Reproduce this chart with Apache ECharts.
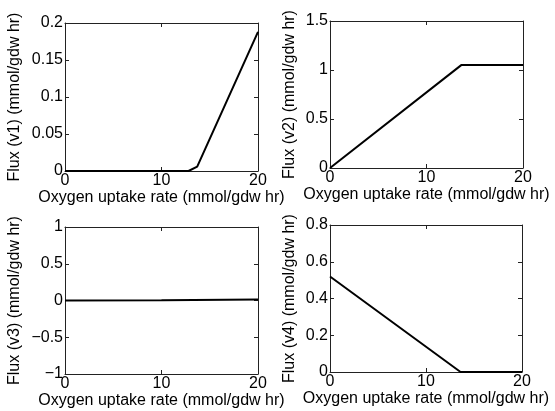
<!DOCTYPE html>
<html>
<head>
<meta charset="utf-8" />
<title>Flux vs oxygen uptake</title>
<style type="text/css">
  html, body, #main {width:100%;height:100%;margin:0;overflow:hidden;background:#fff;}
</style>
<script src="https://cdn.jsdelivr.net/npm/echarts@6/dist/echarts.min.js"></script>
</head>
<body>
<div id="main"></div>
<script type="text/javascript">
// data: [oxygen uptake, flux]
var fluxV1 = [[0, 0], [12.8, 0], [13.7, 0.006], [20, 0.188]];
var fluxV2 = [[0, 0], [13.6, 1.05], [20, 1.05]];
var fluxV3 = [[0, 0], [10, 0.005], [20, 0.012]];
var fluxV4 = [[0, 0.52], [13.6, 0], [20, 0]];
var yNames = ['Flux (v1) (mmol/gdw hr)', 'Flux (v2) (mmol/gdw hr)', 'Flux (v3) (mmol/gdw hr)', 'Flux (v4) (mmol/gdw hr)'];
var yMin = [0, 0, -1, 0];
var yMax = [0.2, 1.5, 1, 0.8];
var yStep = [0.05, 0.5, 0.5, 0.2];
var xName = 'Oxygen uptake rate (mmol/gdw hr)';

var font = 'Liberation Sans, Arial, sans-serif';
var grids = [
    {left: 65, top: 23, width: 193, height: 148},
    {left: 330, top: 21, width: 193, height: 147},
    {left: 65, top: 227, width: 193, height: 147},
    {left: 330, top: 225, width: 192, height: 147}
];
var nameGaps = [42, 32, 42, 32];
var lineCol = '#222';

var xAxes = [], yAxes = [], series = [];
var allData = [fluxV1, fluxV2, fluxV3, fluxV4];
for (var i = 0; i < 4; i++) {
    var common = {
        gridIndex: i, type: 'value', min: 0, max: 20, interval: 10,
        axisLine: {show: true, onZero: false, lineStyle: {color: lineCol, width: 1}},
        axisTick: {show: true, inside: true, length: 4, lineStyle: {color: lineCol}},
        splitLine: {show: false}
    };
    xAxes.push(Object.assign({}, common, {
        position: 'bottom', name: xName, nameLocation: 'middle', nameGap: 19,
        nameTextStyle: {color: '#000', fontSize: 16, fontFamily: font},
        axisLabel: {color: '#000', fontSize: 16, fontFamily: font, margin: 2}
    }));
    xAxes.push(Object.assign({}, common, {position: 'top', axisLabel: {show: false}}));
    var ycommon = {
        gridIndex: i, type: 'value', min: yMin[i], max: yMax[i], interval: yStep[i],
        axisLine: {show: true, onZero: false, lineStyle: {color: lineCol, width: 1}},
        axisTick: {show: true, inside: true, length: 4, lineStyle: {color: lineCol}},
        splitLine: {show: false}
    };
    yAxes.push(Object.assign({}, ycommon, {
        position: 'left', name: yNames[i], nameLocation: 'middle', nameGap: nameGaps[i],
        nameTextStyle: {color: '#000', fontSize: 16, fontFamily: font},
        axisLabel: {color: '#000', fontSize: 16, fontFamily: font, margin: 2,
            formatter: function (v) { return String(v).replace('-', '\u2212'); }}
    }));
    yAxes.push(Object.assign({}, ycommon, {position: 'right', axisLabel: {show: false}}));
    series.push({
        type: 'line', xAxisIndex: i * 2, yAxisIndex: i * 2, data: allData[i],
        showSymbol: false, symbol: 'none', animation: false,
        lineStyle: {color: '#000', width: 2}
    });
}

var chart = echarts.init(document.getElementById('main'));
chart.setOption({
    animation: false,
    grid: grids,
    xAxis: xAxes,
    yAxis: yAxes,
    series: series
});
</script>
</body>
</html>
